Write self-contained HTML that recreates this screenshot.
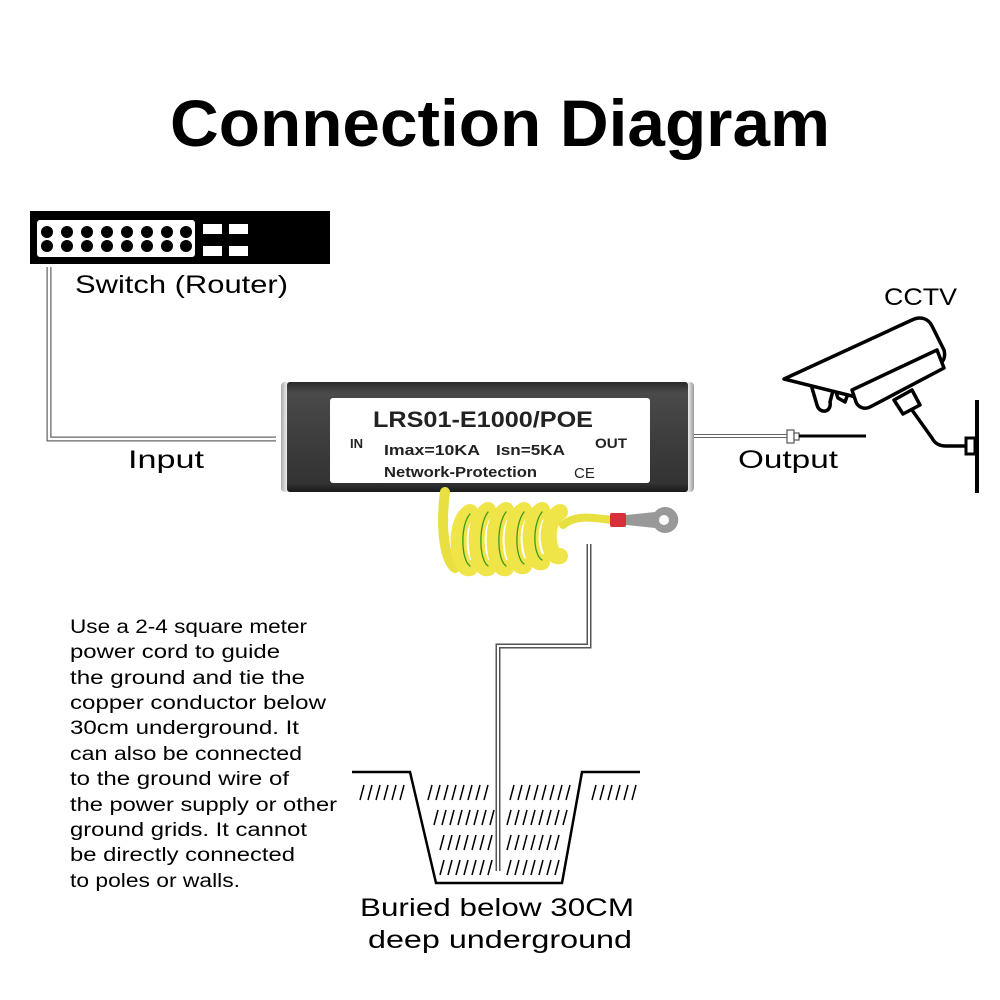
<!DOCTYPE html>
<html><head><meta charset="utf-8"><style>
html,body{margin:0;padding:0;background:#fff;}
svg{display:block;}
text{font-family:"Liberation Sans",sans-serif;}
</style></head><body>
<svg width="1000" height="1000" viewBox="0 0 1000 1000" xmlns="http://www.w3.org/2000/svg">
<defs>
<linearGradient id="body" x1="0" y1="0" x2="0" y2="1">
<stop offset="0" stop-color="#2a2a2a"/><stop offset="0.1" stop-color="#4a4a4a"/><stop offset="0.5" stop-color="#3e3e3e"/><stop offset="0.92" stop-color="#333"/><stop offset="1" stop-color="#1a1a1a"/>
</linearGradient>
<linearGradient id="cap" x1="0" y1="0" x2="1" y2="0">
<stop offset="0" stop-color="#aaa"/><stop offset="0.5" stop-color="#eee"/><stop offset="1" stop-color="#999"/>
</linearGradient>
</defs>
<rect width="1000" height="1000" fill="#fff"/>
<text x="170" y="146" font-size="66" font-weight="bold" textLength="660" lengthAdjust="spacingAndGlyphs">Connection Diagram</text>

<!-- switch -->
<rect x="30" y="211" width="300" height="53" fill="#000"/>
<rect x="37" y="220" width="158" height="37" rx="3" fill="#fff"/>
<g fill="#000">
<circle cx="47" cy="232" r="6"/><circle cx="67" cy="232" r="6"/><circle cx="87" cy="232" r="6"/><circle cx="107" cy="232" r="6"/><circle cx="127" cy="232" r="6"/><circle cx="147" cy="232" r="6"/><circle cx="167" cy="232" r="6"/><circle cx="186" cy="232" r="6"/>
<circle cx="47" cy="246" r="6"/><circle cx="67" cy="246" r="6"/><circle cx="87" cy="246" r="6"/><circle cx="107" cy="246" r="6"/><circle cx="127" cy="246" r="6"/><circle cx="147" cy="246" r="6"/><circle cx="167" cy="246" r="6"/><circle cx="186" cy="246" r="6"/>
</g>
<g fill="#fff"><rect x="203" y="224" width="19" height="10"/><rect x="229" y="224" width="19" height="10"/><rect x="203" y="246" width="19" height="10"/><rect x="229" y="246" width="19" height="10"/></g>
<text x="75" y="293" font-size="25" textLength="213" lengthAdjust="spacingAndGlyphs">Switch (Router)</text>

<!-- input wire -->
<path d="M49 267 V439 H276" fill="none" stroke="#666" stroke-width="5"/>
<path d="M49 267 V439 H276" fill="none" stroke="#fff" stroke-width="2.5"/>
<text x="128" y="468" font-size="25" textLength="76" lengthAdjust="spacingAndGlyphs">Input</text>

<!-- output wire -->
<path d="M693 436 H790" stroke="#666" stroke-width="4"/>
<path d="M693 436 H790" stroke="#fff" stroke-width="2"/>
<rect x="787" y="430" width="7" height="13" fill="#fff" stroke="#555" stroke-width="1.2"/>
<rect x="794" y="433" width="5" height="7" fill="#fff" stroke="#555" stroke-width="1.2"/>
<path d="M799 436 H866" stroke="#000" stroke-width="3"/>
<text x="738" y="468" font-size="25" textLength="100" lengthAdjust="spacingAndGlyphs">Output</text>

<!-- device -->
<rect x="281" y="382" width="12" height="110" rx="4" fill="url(#cap)"/>
<rect x="682" y="382" width="12" height="110" rx="4" fill="url(#cap)"/>
<rect x="287" y="382" width="401" height="110" rx="3" fill="url(#body)"/>
<rect x="330" y="398" width="320" height="85" rx="3" fill="#fff"/>
<text x="373" y="427" font-size="22" font-weight="bold" fill="#222" textLength="220" lengthAdjust="spacingAndGlyphs">LRS01-E1000/POE</text>
<text x="350" y="448" font-size="13" font-weight="bold" fill="#222">IN</text>
<text x="384" y="455" font-size="15" font-weight="bold" fill="#222" textLength="96" lengthAdjust="spacingAndGlyphs">Imax=10KA</text>
<text x="496" y="455" font-size="15" font-weight="bold" fill="#222" textLength="69" lengthAdjust="spacingAndGlyphs">Isn=5KA</text>
<text x="595" y="448" font-size="14" font-weight="bold" fill="#222" textLength="32" lengthAdjust="spacingAndGlyphs">OUT</text>
<text x="384" y="477" font-size="15" font-weight="bold" fill="#222" textLength="153" lengthAdjust="spacingAndGlyphs">Network-Protection</text>
<text x="574" y="478" font-size="15" fill="#222">CE</text>

<!-- ground coil -->
<g fill="none" stroke-linecap="round">
<path d="M445 492 C440 530 445 560 455 568" stroke="#e8e040" stroke-width="10"/>
<path d="M470 512 C452 522 458 572 470 568 M488 510 C470 520 476 572 488 568 M506 510 C488 520 494 572 506 568 M524 510 C506 520 512 570 524 566 M542 510 C524 520 530 566 542 562 M560 512 C542 522 548 560 560 556" stroke="#f0e548" stroke-width="16"/>
<path d="M563 525 C575 515 590 517 612 520" stroke="#e8e040" stroke-width="8"/>
<path d="M470 514 C460 525 461 560 470 566 M488 512 C478 525 479 560 488 566 M506 512 C496 525 497 560 506 566 M524 512 C514 525 515 558 524 564 M542 512 C532 525 533 555 542 560" stroke="#3a9a20" stroke-width="1.3"/>
</g>
<rect x="610" y="513" width="16" height="14" rx="2" fill="#d8303a"/>
<path d="M626 515 L655 512 A13 13 0 1 1 655 528 L626 525 Z" fill="#999"/>
<circle cx="664" cy="520" r="5" fill="#fff"/>

<!-- ground wire -->
<path d="M589 544 V646 H498 V871" fill="none" stroke="#555" stroke-width="5"/>
<path d="M589 544 V646 H498 V871" fill="none" stroke="#fff" stroke-width="2"/>

<!-- trench -->
<path d="M352 772 H410 L436 883 H562 L582 772 H640" fill="none" stroke="#000" stroke-width="2.5"/>
<g stroke="#000" stroke-width="1.5">
<path d="M360 800 l4 -15 M368 800 l4 -15 M376 800 l4 -15 M384 800 l4 -15 M392 800 l4 -15 M400 800 l4 -15"/>
<path d="M428 800 l4 -15 M436 800 l4 -15 M444 800 l4 -15 M452 800 l4 -15 M460 800 l4 -15 M468 800 l4 -15 M476 800 l4 -15 M484 800 l4 -15"/>
<path d="M434 825 l4 -15 M442 825 l4 -15 M450 825 l4 -15 M458 825 l4 -15 M466 825 l4 -15 M474 825 l4 -15 M482 825 l4 -15 M490 825 l4 -15"/>
<path d="M440 850 l4 -15 M448 850 l4 -15 M456 850 l4 -15 M464 850 l4 -15 M472 850 l4 -15 M480 850 l4 -15 M488 850 l4 -15"/>
<path d="M440 875 l4 -15 M448 875 l4 -15 M456 875 l4 -15 M464 875 l4 -15 M472 875 l4 -15 M480 875 l4 -15 M488 875 l4 -15"/>
<path d="M510 800 l4 -15 M518 800 l4 -15 M526 800 l4 -15 M534 800 l4 -15 M542 800 l4 -15 M550 800 l4 -15 M558 800 l4 -15 M566 800 l4 -15"/>
<path d="M507 825 l4 -15 M515 825 l4 -15 M523 825 l4 -15 M531 825 l4 -15 M539 825 l4 -15 M547 825 l4 -15 M555 825 l4 -15 M563 825 l4 -15"/>
<path d="M507 850 l4 -15 M515 850 l4 -15 M523 850 l4 -15 M531 850 l4 -15 M539 850 l4 -15 M547 850 l4 -15 M555 850 l4 -15"/>
<path d="M507 875 l4 -15 M515 875 l4 -15 M523 875 l4 -15 M531 875 l4 -15 M539 875 l4 -15 M547 875 l4 -15 M555 875 l4 -15"/>
<path d="M592 800 l4 -15 M600 800 l4 -15 M608 800 l4 -15 M616 800 l4 -15 M624 800 l4 -15 M632 800 l4 -15"/>
</g>
<text x="360" y="916" font-size="25" textLength="274" lengthAdjust="spacingAndGlyphs">Buried below 30CM</text>
<text x="368" y="948" font-size="25" textLength="264" lengthAdjust="spacingAndGlyphs">deep underground</text>

<!-- note -->
<g font-size="19" fill="#000">
<text x="70" y="633" textLength="237" lengthAdjust="spacingAndGlyphs">Use a 2-4 square meter</text>
<text x="70" y="658" textLength="210" lengthAdjust="spacingAndGlyphs">power cord to guide</text>
<text x="70" y="684" textLength="235" lengthAdjust="spacingAndGlyphs">the ground and tie the</text>
<text x="70" y="709" textLength="256" lengthAdjust="spacingAndGlyphs">copper conductor below</text>
<text x="70" y="734" textLength="229" lengthAdjust="spacingAndGlyphs">30cm underground. It</text>
<text x="70" y="760" textLength="232" lengthAdjust="spacingAndGlyphs">can also be connected</text>
<text x="70" y="785" textLength="219" lengthAdjust="spacingAndGlyphs">to the ground wire of</text>
<text x="70" y="811" textLength="267" lengthAdjust="spacingAndGlyphs">the power supply or other</text>
<text x="70" y="836" textLength="237" lengthAdjust="spacingAndGlyphs">ground grids. It cannot</text>
<text x="70" y="861" textLength="225" lengthAdjust="spacingAndGlyphs">be directly connected</text>
<text x="70" y="887" textLength="170" lengthAdjust="spacingAndGlyphs">to poles or walls.</text>
</g>

<!-- CCTV -->
<text x="884" y="305" font-size="24" textLength="73" lengthAdjust="spacingAndGlyphs">CCTV</text>
<g fill="#fff" stroke="#000" stroke-width="3.5" stroke-linejoin="round">
<path d="M835 383 C830 372 810 374 812 388 L817 405 C820 415 832 412 830 402 Z"/>
<path d="M850 388 C845 382 832 384 838 398 L845 402 Z"/>
<path d="M784 379 L912 320 C920 316 928 318 932 326 L944 350 C946 358 943 362 938 365 L868 400 Z"/>
<path d="M852 390 L937 350 L944 368 L870 407 C864 410 858 407 856 402 Z"/>
<path d="M894 400 L912 390 L920 405 L903 414 Z"/>
</g>
<path d="M912 410 L932 438 C935 444 940 446 946 446 L968 446" fill="none" stroke="#000" stroke-width="3.5"/>
<rect x="966" y="438" width="9" height="16" fill="#fff" stroke="#000" stroke-width="3"/>
<path d="M977 400 V493" stroke="#000" stroke-width="4"/>
</svg>
</body></html>
